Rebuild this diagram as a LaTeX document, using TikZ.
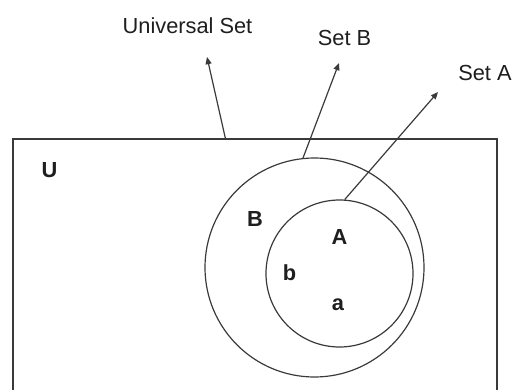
\documentclass[tikz,border=0pt]{standalone}
\usepackage{fontspec}
\setmainfont{Liberation Sans}
\usetikzlibrary{arrows.meta}
\definecolor{vnline}{HTML}{3A3A3A}
\definecolor{vntext}{HTML}{1E1E1E}

\begin{document}
\begin{tikzpicture}[x=0.5pt, y=-0.5pt,
  setcirc/.style={circle, draw=vnline, line width=0.6pt, inner sep=0pt},
  lbl/.style={font=\fontsize{10.9}{13}\selectfont, text=vntext, inner sep=0pt},
  setlbl/.style={lbl, font=\fontsize{10.9}{13}\selectfont\bfseries},
  ptr/.style={-{Triangle[length=3.6pt, width=3pt]}, draw=vnline, line width=0.6pt}
]
  \useasboundingbox (0,0) rectangle (514,390);

  % Universe
  \node[draw=vnline, line width=0.6pt, minimum width=242pt, minimum height=130.5pt,
        inner sep=0pt] (univ) at (255,269.5) {};

  % Sets
  \node[setcirc, minimum size=109.5pt] (setB) at (314.5,267.5) {};
  \node[setcirc, minimum size=73.5pt] (setA) at (339.5,273.5) {};

  % Region labels
  \node[setlbl] (lU) at (49.5,170.5) {U};
  \node[setlbl] (lB) at (255,219.5) {B};
  \node[setlbl] (lA) at (339.5,237.5) {A};
  \node[setlbl] (lb) at (289.5,272.5) {b};
  \node[setlbl] (la) at (338,305) {a};

  % Captions
  \node[lbl] (tU) at (187.5,25.5) {Universal Set};
  \node[lbl] (tB) at (344.5,37.5) {Set B};
  \node[lbl, anchor=east] (tA) at (512,72.5) {Set A};

  % Arrows
  \coordinate (pU) at (207,57);
  \coordinate (pB) at (339,63);
  \coordinate (pA) at (438,92);
  \draw[ptr] ([xshift=106.5pt]univ.north west) -- (pU);
  \draw[ptr] (setB.96) -- (pB);
  \draw[ptr] (setA.86) -- (pA);
\end{tikzpicture}
\end{document}
